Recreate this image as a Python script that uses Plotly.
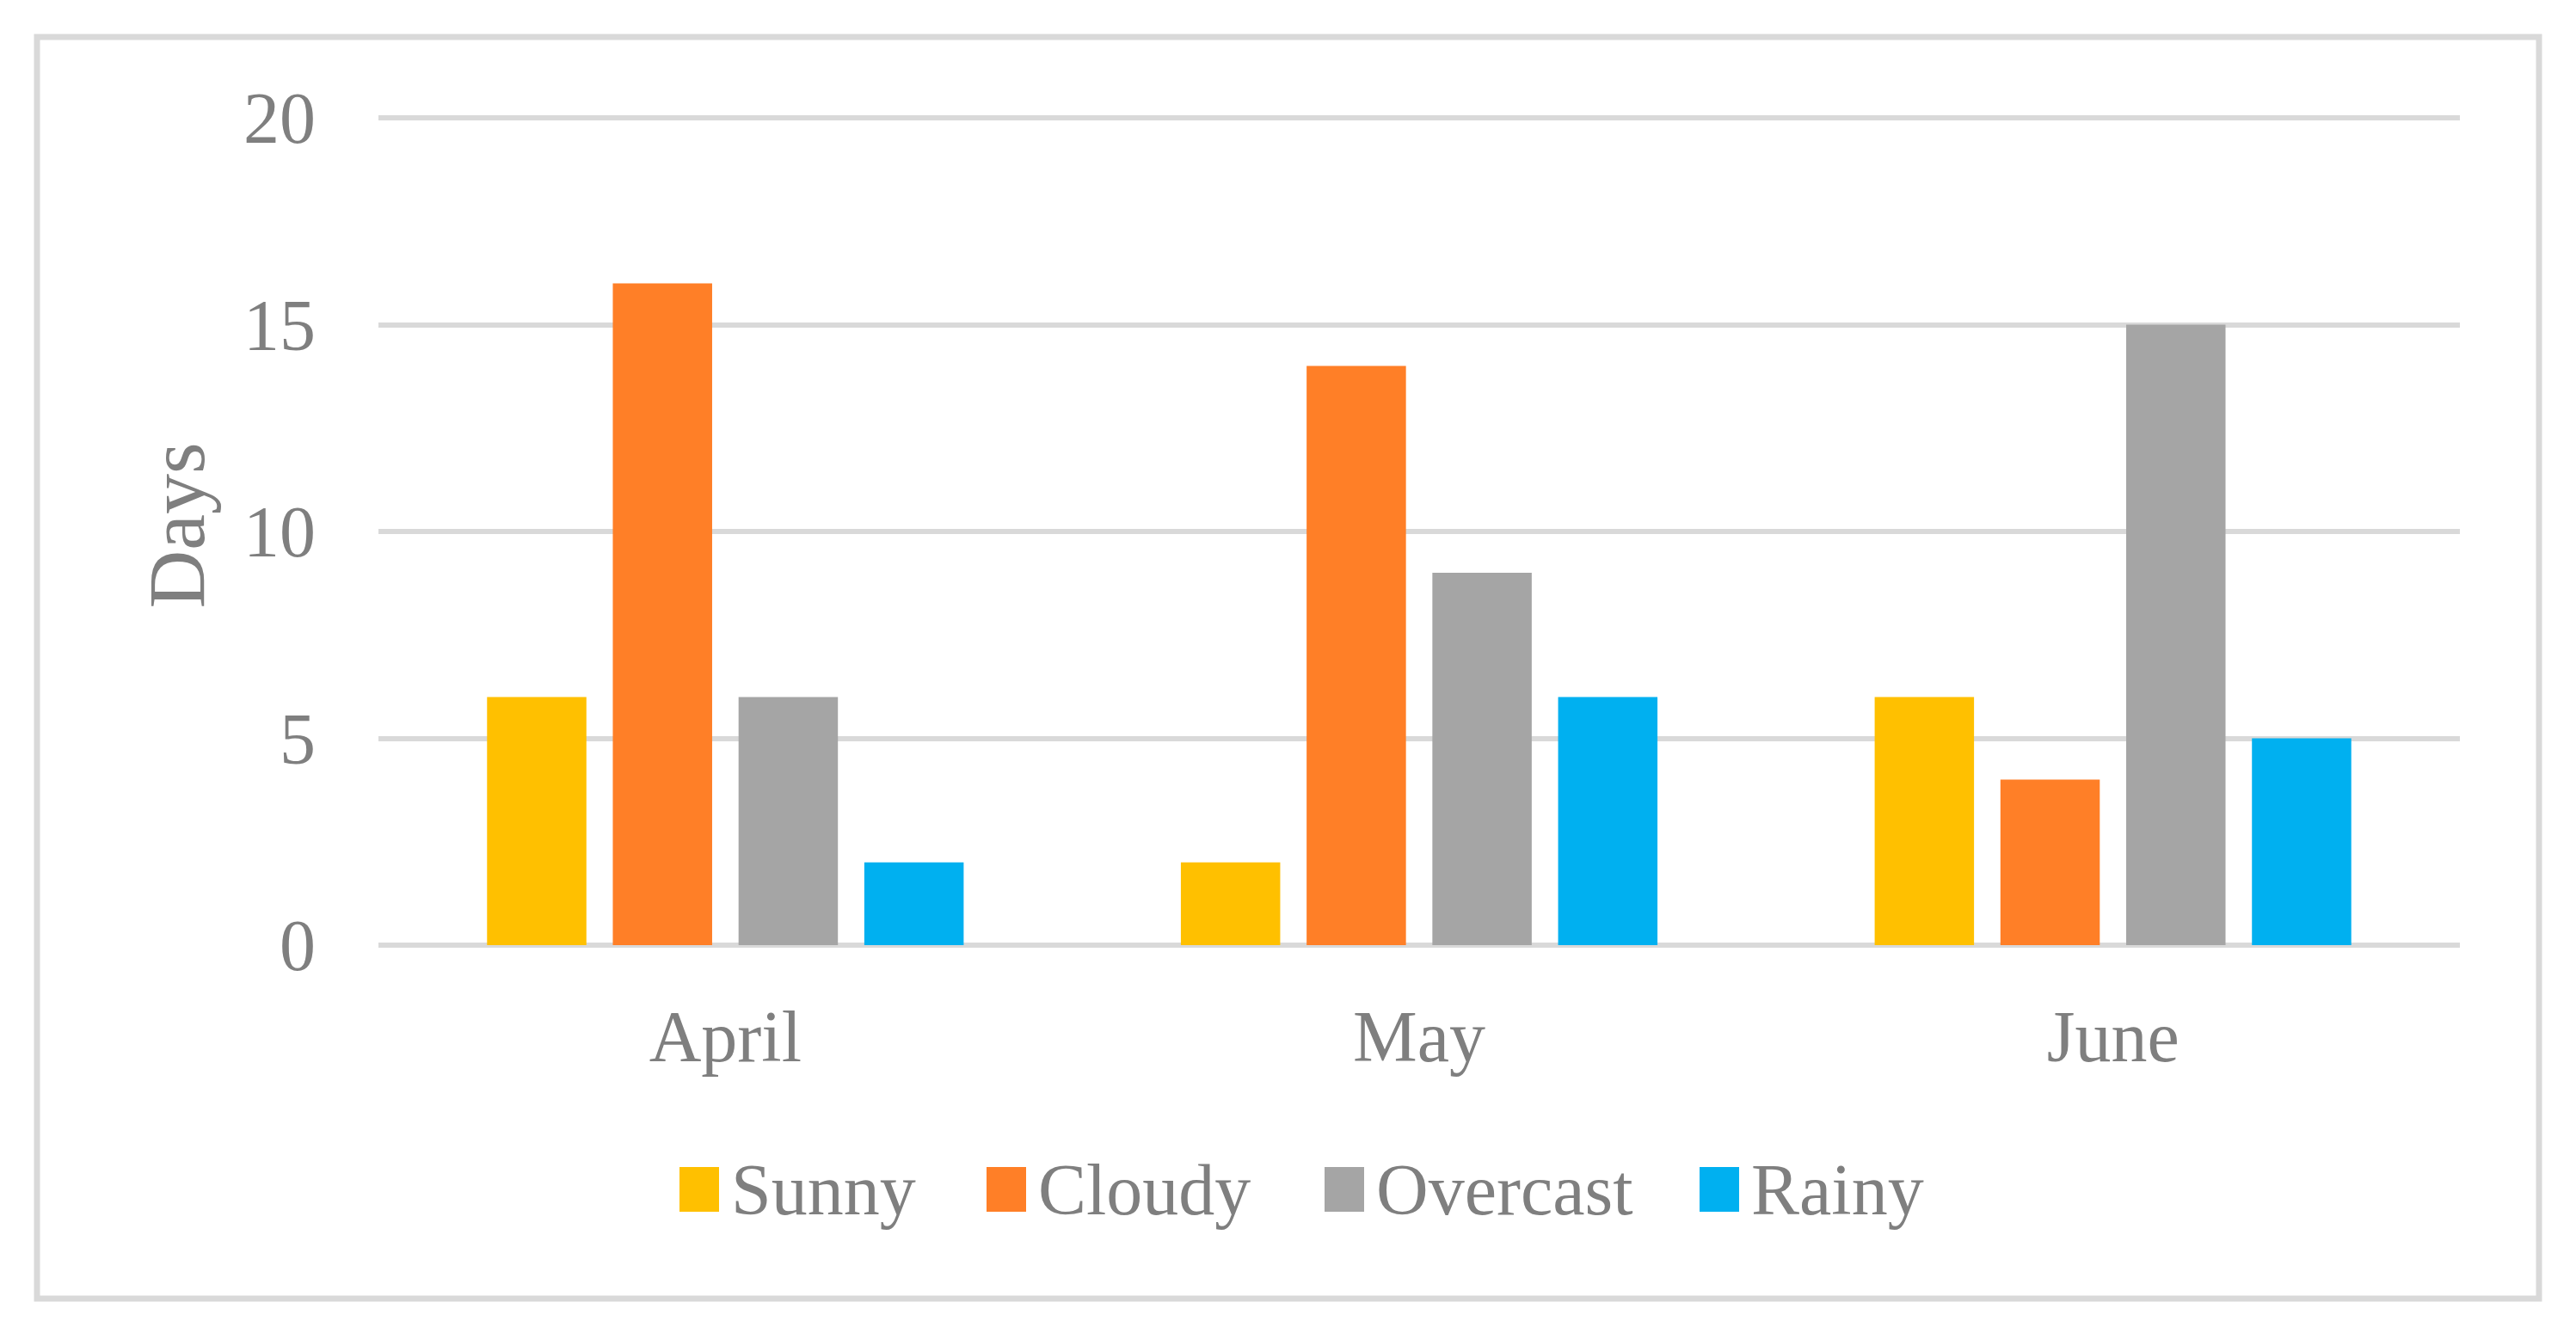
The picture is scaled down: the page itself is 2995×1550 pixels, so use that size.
import plotly.graph_objects as go

months = ["April", "May", "June"]
series = ["Sunny", "Cloudy", "Overcast", "Rainy"]
sunny = [6, 2, 6]
cloudy = [16, 14, 4]
overcast = [6, 9, 15]
rainy = [2, 6, 5]
colors = ["#FFC000", "#FF7F27", "#A5A5A5", "#00B0F0"]
y_ticks = [0, 5, 10, 15, 20]

W, H = 2995, 1550
DX, DY = -7, -7
PER_UNIT = (1098 - 136) / 20.0
EXTRA = 14  # px of headroom above the 20 gridline so it is drawn
L, R, T, B = 439 + DX, 2859 + DX, 136 + DY - EXTRA, 1098 + DY
YMAX = 20 + EXTRA / PER_UNIT
FONT = "Palatino Linotype, Book Antiqua, Palatino, Liberation Serif, serif"
GRAY = "#7F7F7F"
GRID = "#D9D9D9"
FS = 84


def px_x(p):
    return (p + DX - L) / (R - L)


def px_y(p):
    return (B - (p + DY)) / (B - T)


fig = go.Figure()
for name, vals, col in zip(series, [sunny, cloudy, overcast, rainy], colors):
    fig.add_trace(go.Bar(name=name, x=months, y=vals, marker_color=col,
                         marker_line_width=0, showlegend=False))

fig.update_layout(
    width=W, height=H,
    margin=dict(l=L, r=W - R, t=T, b=H - B, pad=0),
    paper_bgcolor="white", plot_bgcolor="white",
    barmode="group", bargap=0.275, bargroupgap=0.21,
    font=dict(family=FONT, size=FS, color=GRAY),
)
fig.update_yaxes(range=[0, YMAX], tickvals=y_ticks, showgrid=True, gridcolor=GRID,
                 gridwidth=6, zeroline=True, zerolinecolor=GRID, zerolinewidth=6,
                 showline=False, ticks="", ticklabelstandoff=72,
                 tickfont=dict(size=FS, color=GRAY),
                 title=dict(text="Days", font=dict(size=94, color=GRAY), standoff=14))
fig.update_xaxes(showgrid=False, showline=False, zeroline=False, ticks="",
                 ticklabelstandoff=50, tickfont=dict(size=FS, color=GRAY))

# outer chart frame
fig.add_shape(type="rect", xref="paper", yref="paper",
              x0=px_x(42), x1=px_x(2951), y0=px_y(1509), y1=px_y(42),
              line=dict(color=GRID, width=7), fillcolor="rgba(0,0,0,0)", layer="below")

# custom legend
sw_left = [789, 1146, 1539, 1975]
for name, col, sx in zip(series, colors, sw_left):
    fig.add_shape(type="rect", xref="paper", yref="paper",
                  x0=px_x(sx), x1=px_x(sx + 46), y0=px_y(1408), y1=px_y(1356),
                  line=dict(width=0), fillcolor=col)
    fig.add_annotation(xref="paper", yref="paper", x=px_x(sx + 58), y=px_y(1382),
                       text=name, showarrow=False, xanchor="left", yanchor="middle",
                       font=dict(size=FS, color=GRAY, family=FONT))

fig.write_html("out.html")
